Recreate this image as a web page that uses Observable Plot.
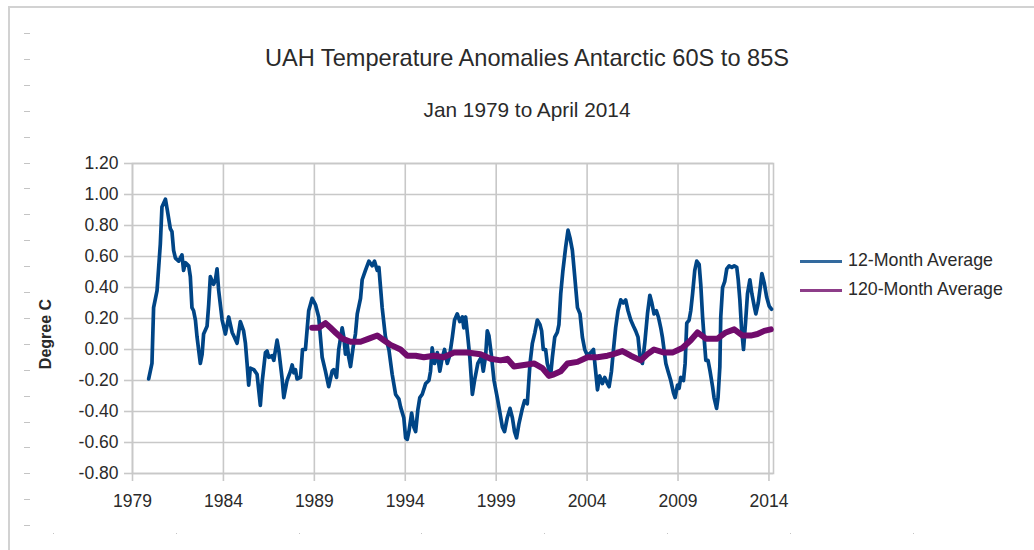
<!DOCTYPE html>
<html>
<head>
<meta charset="utf-8">
<script src="https://cdn.jsdelivr.net/npm/d3@7"></script>
<script src="https://cdn.jsdelivr.net/npm/@observablehq/plot@0.6"></script>
<style>
  html, body { margin: 0; padding: 0; background: #fff; }
  body { width: 1034px; height: 550px; overflow: hidden; position: relative; font-family: "Liberation Sans", Arial, sans-serif; color: #2a2a2a; }
  #frame { position: absolute; left: 8px; top: 6px; width: 1100px; height: 600px; border-left: 2px solid #d2d2d2; border-top: 2px solid #d2d2d2; }
  #dashes { position: absolute; left: 24px; top: 33px; width: 6px; height: 495px;
    background: repeating-linear-gradient(to bottom, #c4c4c4 0px, #c4c4c4 1px, transparent 1px, transparent 25.9px); }
  #dots { position: absolute; left: 53px; top: 533px; width: 900px; height: 1px;
    background: repeating-linear-gradient(to right, #c4c4c4 0px, #c4c4c4 1px, transparent 1px, transparent 122.8px); }
  #chart { position: absolute; left: 0; top: 0; }
  .title { position: absolute; left: 0; width: 1054px; text-align: center; line-height: 1; white-space: nowrap; }
  #t1 { top: 47px; font-size: 23.6px; }
  #t2 { top: 100px; font-size: 20.8px; }
  #ylab { position: absolute; left: 46px; top: 334px; font-size: 16px; font-weight: bold; line-height: 1;
    transform: translate(-50%, -50%) rotate(-90deg); white-space: nowrap; color: #2a2a2a; }
  .leg { position: absolute; left: 800px; font-size: 17.8px; line-height: 1; white-space: nowrap; }
  .leg .sw { position: absolute; left: 0; top: 8px; width: 42px; height: 3px; opacity: 0.8; }
  .leg .tx { position: absolute; left: 48px; top: 0; }
</style>
</head>
<body>
<div id="frame"></div>
<div id="dashes"></div>
<div id="dots"></div>
<div id="chart"></div>
<div class="title" id="t1">UAH Temperature Anomalies Antarctic 60S to 85S</div>
<div class="title" id="t2">Jan 1979 to April 2014</div>
<div id="ylab">Degree C</div>
<div class="leg" id="leg1" style="top:252px"><div class="sw" style="background:#004586"></div><div class="tx">12-Month Average</div></div>
<div class="leg" id="leg2" style="top:281px"><div class="sw" style="background:#710c6c"></div><div class="tx">120-Month Average</div></div>
<script>
// ---- Data ----
const xTicks = [1979, 1984, 1989, 1994, 1999, 2004, 2009, 2014];
const yTicks = [-0.8, -0.6, -0.4, -0.2, 0, 0.2, 0.4, 0.6, 0.8, 1.0, 1.2];

const seriesNames = ["12-Month Average", "120-Month Average"];

const avg12Year = [
1979.89,1980.07,1980.16,1980.35,1980.53,1980.62,1980.81,1980.90,1981.08,1981.17,1981.26,1981.36,1981.54,1981.72,1981.81,1981.91,
1982.09,1982.18,1982.27,1982.36,1982.46,1982.55,1982.73,1982.83,1982.91,1983.10,1983.19,1983.28,1983.46,1983.56,1983.65,1983.74,1983.93,
1984.11,1984.29,1984.48,1984.56,1984.75,1984.93,1985.11,1985.21,1985.30,1985.39,1985.48,1985.67,1985.85,1986.03,1986.13,1986.31,1986.40,
1986.49,1986.68,1986.77,1986.95,1987.04,1987.23,1987.32,1987.50,1987.69,1987.78,1987.87,1987.96,1988.05,1988.24,1988.35,1988.51,1988.69,
1988.88,1989.06,1989.24,1989.43,1989.61,1989.79,1989.98,1990.07,1990.22,1990.34,1990.53,1990.62,1990.71,1990.81,1990.89,1990.99,1991.14,
1991.26,1991.36,1991.54,1991.63,1991.81,1992.00,1992.18,1992.31,1992.46,1992.55,1992.64,1992.73,1992.91,1993.10,1993.28,1993.47,1993.65,
1993.74,1993.92,1994.02,1994.11,1994.20,1994.35,1994.47,1994.57,1994.69,1994.80,1994.93,1995.12,1995.30,1995.39,1995.48,1995.61,1995.76,
1995.90,1996.04,1996.16,1996.31,1996.44,1996.59,1996.71,1996.86,1997.00,1997.14,1997.22,1997.32,1997.44,1997.55,1997.69,1997.81,1997.99,
1998.18,1998.29,1998.42,1998.51,1998.60,1998.73,1998.88,1999.06,1999.15,1999.34,1999.46,1999.61,1999.76,1999.89,2000.01,2000.12,2000.25,
2000.44,2000.56,2000.71,2000.86,2000.99,2001.13,2001.26,2001.41,2001.50,2001.59,2001.72,2001.81,2001.90,2002.00,2002.09,2002.22,2002.36,
2002.45,2002.55,2002.67,2002.82,2002.95,2003.06,2003.19,2003.32,2003.47,2003.61,2003.74,2003.87,2004.02,2004.20,2004.35,2004.47,2004.57,
2004.69,2004.84,2004.97,2005.12,2005.21,2005.34,2005.45,2005.57,2005.70,2005.85,2005.98,2006.12,2006.25,2006.40,2006.55,2006.67,2006.80,
2006.91,2007.04,2007.17,2007.32,2007.45,2007.56,2007.68,2007.81,2007.92,2008.05,2008.14,2008.23,2008.33,2008.45,2008.60,2008.75,2008.84,
2008.97,2009.06,2009.15,2009.30,2009.39,2009.48,2009.61,2009.70,2009.80,2009.92,2010.03,2010.16,2010.25,2010.35,2010.43,2010.53,2010.65,
2010.76,2010.90,2010.98,2011.12,2011.20,2011.30,2011.35,2011.45,2011.57,2011.68,2011.81,2011.96,2012.09,2012.23,2012.31,2012.40,2012.49,
2012.60,2012.71,2012.82,2012.95,2013.06,2013.19,2013.28,2013.41,2013.52,2013.61,2013.74,2013.87,2014.01,2014.14
];
const avg12Value = [
-0.19,-0.09,0.27,0.38,0.68,0.92,0.97,0.91,0.78,0.76,0.64,0.59,0.57,0.61,0.51,0.56,
0.54,0.47,0.27,0.25,0.19,0.08,-0.09,-0.03,0.10,0.15,0.29,0.47,0.42,0.45,0.52,0.38,0.19,
0.10,0.21,0.11,0.09,0.04,0.18,0.12,0.04,-0.09,-0.23,-0.12,-0.13,-0.16,-0.36,-0.21,-0.02,-0.01,
-0.05,-0.04,-0.07,0.06,0.00,-0.19,-0.31,-0.20,-0.14,-0.10,-0.15,-0.13,-0.19,-0.18,0.00,0.00,0.25,
0.33,0.29,0.21,-0.05,-0.14,-0.24,-0.14,-0.13,-0.18,0.00,0.14,0.08,-0.03,0.03,-0.05,-0.11,0.02,
0.10,0.23,0.33,0.45,0.51,0.57,0.54,0.57,0.51,0.53,0.40,0.27,0.08,0.00,-0.16,-0.29,-0.32,
-0.37,-0.44,-0.57,-0.58,-0.53,-0.41,-0.50,-0.53,-0.39,-0.31,-0.29,-0.22,-0.20,-0.14,0.01,-0.09,-0.02,
-0.14,-0.05,0.00,-0.09,-0.04,0.08,0.19,0.23,0.18,0.21,0.14,0.21,0.08,-0.05,-0.29,-0.20,-0.09,
-0.05,-0.14,-0.04,0.12,0.09,-0.03,-0.20,-0.31,-0.37,-0.50,-0.53,-0.44,-0.38,-0.44,-0.53,-0.57,-0.48,
-0.38,-0.33,-0.35,-0.09,0.04,0.11,0.19,0.16,0.12,0.00,0.00,-0.09,-0.13,-0.16,-0.05,0.08,0.11,
0.16,0.36,0.51,0.66,0.77,0.72,0.64,0.47,0.27,0.23,0.08,0.00,-0.04,-0.02,0.00,-0.14,-0.26,
-0.17,-0.22,-0.18,-0.22,-0.24,-0.14,0.00,0.14,0.25,0.32,0.30,0.32,0.25,0.19,0.15,0.12,0.08,
-0.05,-0.09,0.04,0.23,0.35,0.30,0.23,0.25,0.21,0.14,0.08,0.00,-0.09,-0.14,-0.20,-0.28,-0.31,
-0.23,-0.25,-0.18,-0.20,-0.09,0.17,0.19,0.25,0.36,0.51,0.57,0.55,0.42,0.21,0.08,-0.07,-0.07,
-0.14,-0.24,-0.31,-0.38,-0.31,-0.11,0.21,0.40,0.44,0.52,0.54,0.53,0.54,0.53,0.45,0.32,0.14,
0.00,0.17,0.36,0.45,0.36,0.28,0.23,0.30,0.40,0.49,0.43,0.34,0.28,0.26
];

const avg120Year = [
1988.88,1989.24,1989.61,1989.89,1990.16,1990.53,1990.99,1991.54,1992.00,1992.46,1992.82,1993.19,1993.74,1994.11,
1994.57,1995.02,1995.57,1996.12,1996.67,1997.41,1998.14,1998.69,1999.24,1999.61,1999.98,2000.53,2001.08,2001.54,
2001.90,2002.18,2002.55,2002.92,2003.47,2004.02,2004.57,2005.12,2005.45,2005.94,2006.40,2006.95,2007.32,2007.68,
2008.23,2008.69,2009.24,2009.70,2010.07,2010.53,2011.17,2011.63,2012.09,2012.55,2013.00,2013.37,2013.74,2014.10
];
const avg120Value = [
0.14,0.14,0.17,0.14,0.11,0.07,0.05,0.05,0.07,0.09,0.06,0.03,0.00,-0.04,
-0.04,-0.05,-0.04,-0.05,-0.02,-0.02,-0.03,-0.06,-0.07,-0.06,-0.11,-0.10,-0.09,-0.12,
-0.17,-0.16,-0.14,-0.09,-0.08,-0.05,-0.05,-0.04,-0.03,-0.01,-0.04,-0.07,-0.03,0.00,
-0.02,-0.02,0.01,0.06,0.11,0.07,0.07,0.11,0.13,0.09,0.09,0.10,0.12,0.13
];

const colors = ["#004586", "#710c6c"];

// ---- Build tables ----
const avg12 = avg12Year.map((t, i) => ({year: t, value: avg12Value[i]}));
const avg120 = avg120Year.map((t, i) => ({year: t, value: avg120Value[i]}));

const fmtY = d => (Math.abs(d) < 1e-9 ? 0 : d).toFixed(2);
const fmtX = d => String(d);
const gridColor = "#c8c8c8";

const chart = Plot.plot({
  width: 1034,
  height: 550,
  marginLeft: 132,
  marginRight: 261,
  marginTop: 163,
  marginBottom: 77,
  style: {fontFamily: "'Liberation Sans', Arial, sans-serif", fontSize: "17px", color: "#2a2a2a", background: "transparent", overflow: "visible"},
  x: {domain: [1979, 2014.25], label: null},
  y: {domain: [-0.8, 1.2], label: null},
  marks: [
    Plot.gridX(xTicks, {stroke: gridColor, strokeOpacity: 1, strokeWidth: 1.6}),
    Plot.gridY(yTicks, {stroke: gridColor, strokeOpacity: 1, strokeWidth: 1.6}),
    Plot.frame({stroke: gridColor, strokeWidth: 1.6}),
    Plot.axisY({ticks: yTicks, tickFormat: fmtY, tickSize: 8, tickPadding: 6, stroke: gridColor, strokeWidth: 1.6, strokeOpacity: 1, fill: "#2a2a2a", fontSize: 17.5, label: null}),
    Plot.axisX({ticks: xTicks, tickFormat: fmtX, tickSize: 8, tickPadding: 13, stroke: gridColor, strokeWidth: 1.6, strokeOpacity: 1, fill: "#2a2a2a", fontSize: 17.5, label: null}),
    Plot.line(avg12, {x: "year", y: "value", stroke: colors[0], strokeWidth: 3.7, strokeLinejoin: "round", strokeLinecap: "round"}),
    Plot.line(avg120, {x: "year", y: "value", stroke: colors[1], strokeWidth: 6, strokeLinejoin: "round", strokeLinecap: "round"})
  ]
});
document.getElementById("chart").appendChild(chart);
</script>
</body>
</html>
